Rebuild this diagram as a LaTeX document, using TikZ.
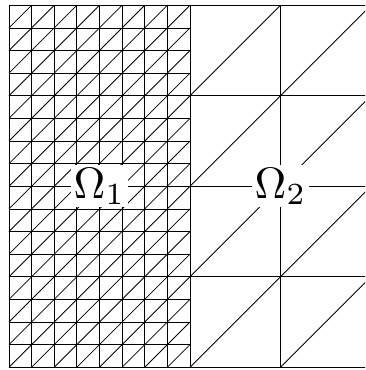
\documentclass[tikz,border=0pt]{standalone}
\begin{document}
\begin{tikzpicture}[x=1pt,y=1pt,
  meshline/.style={line width=0.8pt,black},
  domlabel/.style={fill=white,inner sep=2.5pt}]
\useasboundingbox (0,0) rectangle (365,370);
\clip (0,0) rectangle (365,370);
\def\L{9}\def\B{2.7}\def\h{22.625}
% fine mesh (left half)
\foreach \i in {0,...,8} \draw[meshline] ({\L+\i*\h},\B) -- ({\L+\i*\h},{\B+16*\h});
\foreach \j in {0,...,16} \draw[meshline] (\L,{\B+\j*\h}) -- ({\L+8*\h},{\B+\j*\h});
\foreach \i in {0,...,7} \foreach \j in {0,...,15}
  \draw[meshline] ({\L+\i*\h},{\B+\j*\h}) -- ({\L+(\i+1)*\h},{\B+(\j+1)*\h});
% coarse mesh (right half)
\foreach \i in {8,12,16} \draw[meshline] ({\L+\i*\h},\B) -- ({\L+\i*\h},{\B+16*\h});
\foreach \j in {0,4,8,12,16} \draw[meshline] ({\L+8*\h},{\B+\j*\h}) -- ({\L+16*\h},{\B+\j*\h});
\foreach \i in {8,12} \foreach \j in {0,4,8,12}
  \draw[meshline] ({\L+\i*\h},{\B+\j*\h}) -- ({\L+(\i+4)*\h},{\B+(\j+4)*\h});
% labels
\node[domlabel] (om1) at ({\L+4*\h},{\B+8*\h}) {\scalebox{4.4}{$\Omega_1$}};
\node[domlabel] (om2) at ({\L+12*\h},{\B+8*\h}) {\scalebox{4.4}{$\Omega_2$}};
\end{tikzpicture}
\end{document}
